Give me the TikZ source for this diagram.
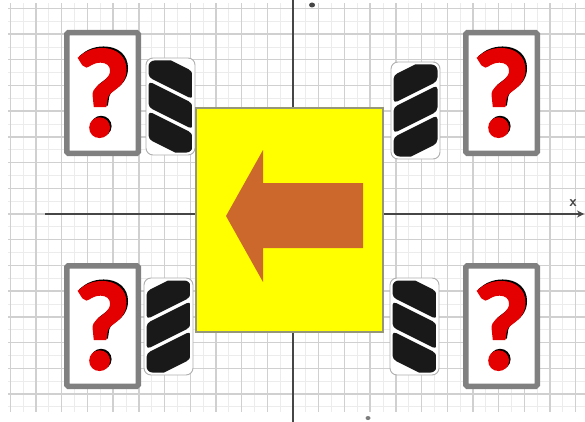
\documentclass[tikz,border=0pt]{standalone}
\usepackage{fontspec}
\newfontfamily\qfont{Lato}[BoldFeatures={FakeBold=2.5}]
\usetikzlibrary{arrows.meta}

\definecolor{gridmajor}{RGB}{208,208,208}
\definecolor{gridminor}{RGB}{236,236,236}
\definecolor{axisgray}{RGB}{70,70,70}
\definecolor{bodyyellow}{RGB}{255,255,0}
\definecolor{bodyedge}{RGB}{150,150,120}
\definecolor{arroworange}{RGB}{205,104,45}
\definecolor{qred}{RGB}{228,0,0}
\definecolor{qframe}{RGB}{128,128,128}
\definecolor{rimgray}{RGB}{175,175,175}
\definecolor{tread}{RGB}{25,25,25}

\tikzset{
  gridmajorline/.style={draw=gridmajor, line width=1.4pt},
  gridminorline/.style={draw=gridminor, line width=0.8pt},
  axisline/.style={draw=axisgray, line width=2.2pt},
  axislabel/.style={text=axisgray, inner sep=0pt, font=\sffamily\bfseries\fontsize{15}{15}\selectfont},
  body/.style={draw=bodyedge, line width=2pt, fill=bodyyellow, minimum width=187pt, minimum height=224pt, inner sep=0pt},
  drivearrow/.style={fill=arroworange},
  rim/.style={draw=rimgray, line width=0.9pt, fill=white, rounded corners=7pt},
  treadband/.style={fill=tread, rounded corners=4pt},
  qbox/.style={draw=qframe, line width=5.5pt, fill=white, minimum width=71.5pt, minimum height=120.5pt, inner sep=0pt, rounded corners=1.5pt},
  qmark/.style={text=qred, inner sep=0pt, font=\qfont\bfseries\fontsize{118}{118}\selectfont},
  qshade/.style={qmark, text=black},
}

% one tread band between the slanted lines y = #1 + x/2 and y = #2 + x/2
\newcommand\treadstrip[2]{%
  \fill[treadband] (2.5,{#1+1.25}) -- (46.5,{#1+23.25}) -- (46.5,{#2+23.25}) -- (2.5,{#2+1.25}) -- cycle;}

% one mecanum wheel: top-left corner (#1,#2), roller direction #3 (1 = \, -1 = /)
\newcommand\mecwheel[3]{%
  \begin{scope}[shift={(#1,#2)}]
    \begin{scope}[shift={({24.5-24.5*#3},0)}, xscale=#3]
      \draw[rim] (0,0) rectangle (49,97);
      \begin{scope}
        \clip[rounded corners=6pt] (2.5,2.5) rectangle (46.5,94.5);
        \treadstrip{-10}{18}
        \treadstrip{22}{48}
        \treadstrip{52}{80}
      \end{scope}
    \end{scope}
  \end{scope}}

\begin{document}
\begin{tikzpicture}[x=1pt, y=-1pt]
  \useasboundingbox (0,0) rectangle (585,422);
  \fill[white] (0,0) rectangle (585,422);

  % graph paper
  \begin{scope}
    \clip (8,4) rectangle (585,411);
    \foreach \k in {-12,...,11} {
      \draw[gridminorline] ({293+25.7*\k+12.85},0) -- ({293+25.7*\k+12.85},422);
    }
    \foreach \k in {-9,...,8} {
      \draw[gridminorline] (0,{214+25.7*\k+12.85}) -- (585,{214+25.7*\k+12.85});
    }
    \foreach \k in {-11,...,11} {
      \draw[gridmajorline] ({293+25.7*\k},0) -- ({293+25.7*\k},422);
    }
    \foreach \k in {-8,...,8} {
      \draw[gridmajorline] (0,{214+25.7*\k}) -- (585,{214+25.7*\k});
    }
  \end{scope}

  % axes
  \coordinate (xstart) at (45,214);
  \coordinate (xend) at (584,214);
  \coordinate (ytop) at (293,0);
  \coordinate (ybottom) at (293,422);
  \draw[axisline, -{Stealth[length=7pt,width=7pt]}] (xstart) -- (xend);
  \draw[axisline] (ytop) -- (ybottom);
  \node[axislabel] (xlab) at (573,203) {x};
  \fill[axisgray] (312,5) ellipse (3pt and 2.5pt);
  \fill[axisgray!70] (368,418) ellipse (2.5pt and 2pt);

  % wheels
  \mecwheel{146}{58}{1}
  \mecwheel{391}{62}{-1}
  \mecwheel{144}{278}{-1}
  \mecwheel{390}{278}{1}

  % chassis and drive direction
  \node[body] (car) at (289.5,220) {};
  \fill[drivearrow] (226,216) -- (263,150) -- (263,183) -- (363,183)
    -- (363,248) -- (263,248) -- (263,282) -- cycle;

  % unknown wheel speeds
  \foreach \name/\cx/\cy in {qa/102.5/93, qb/501.5/93, qc/102.5/326, qd/501.5/326} {
    \node[qbox] (\name) at (\cx,\cy) {};
    \node[qshade] at ([shift={(1.5,-1.5)}]\name.center) {?};
    \node[qmark] at (\name.center) {?};
  }
\end{tikzpicture}
\end{document}
